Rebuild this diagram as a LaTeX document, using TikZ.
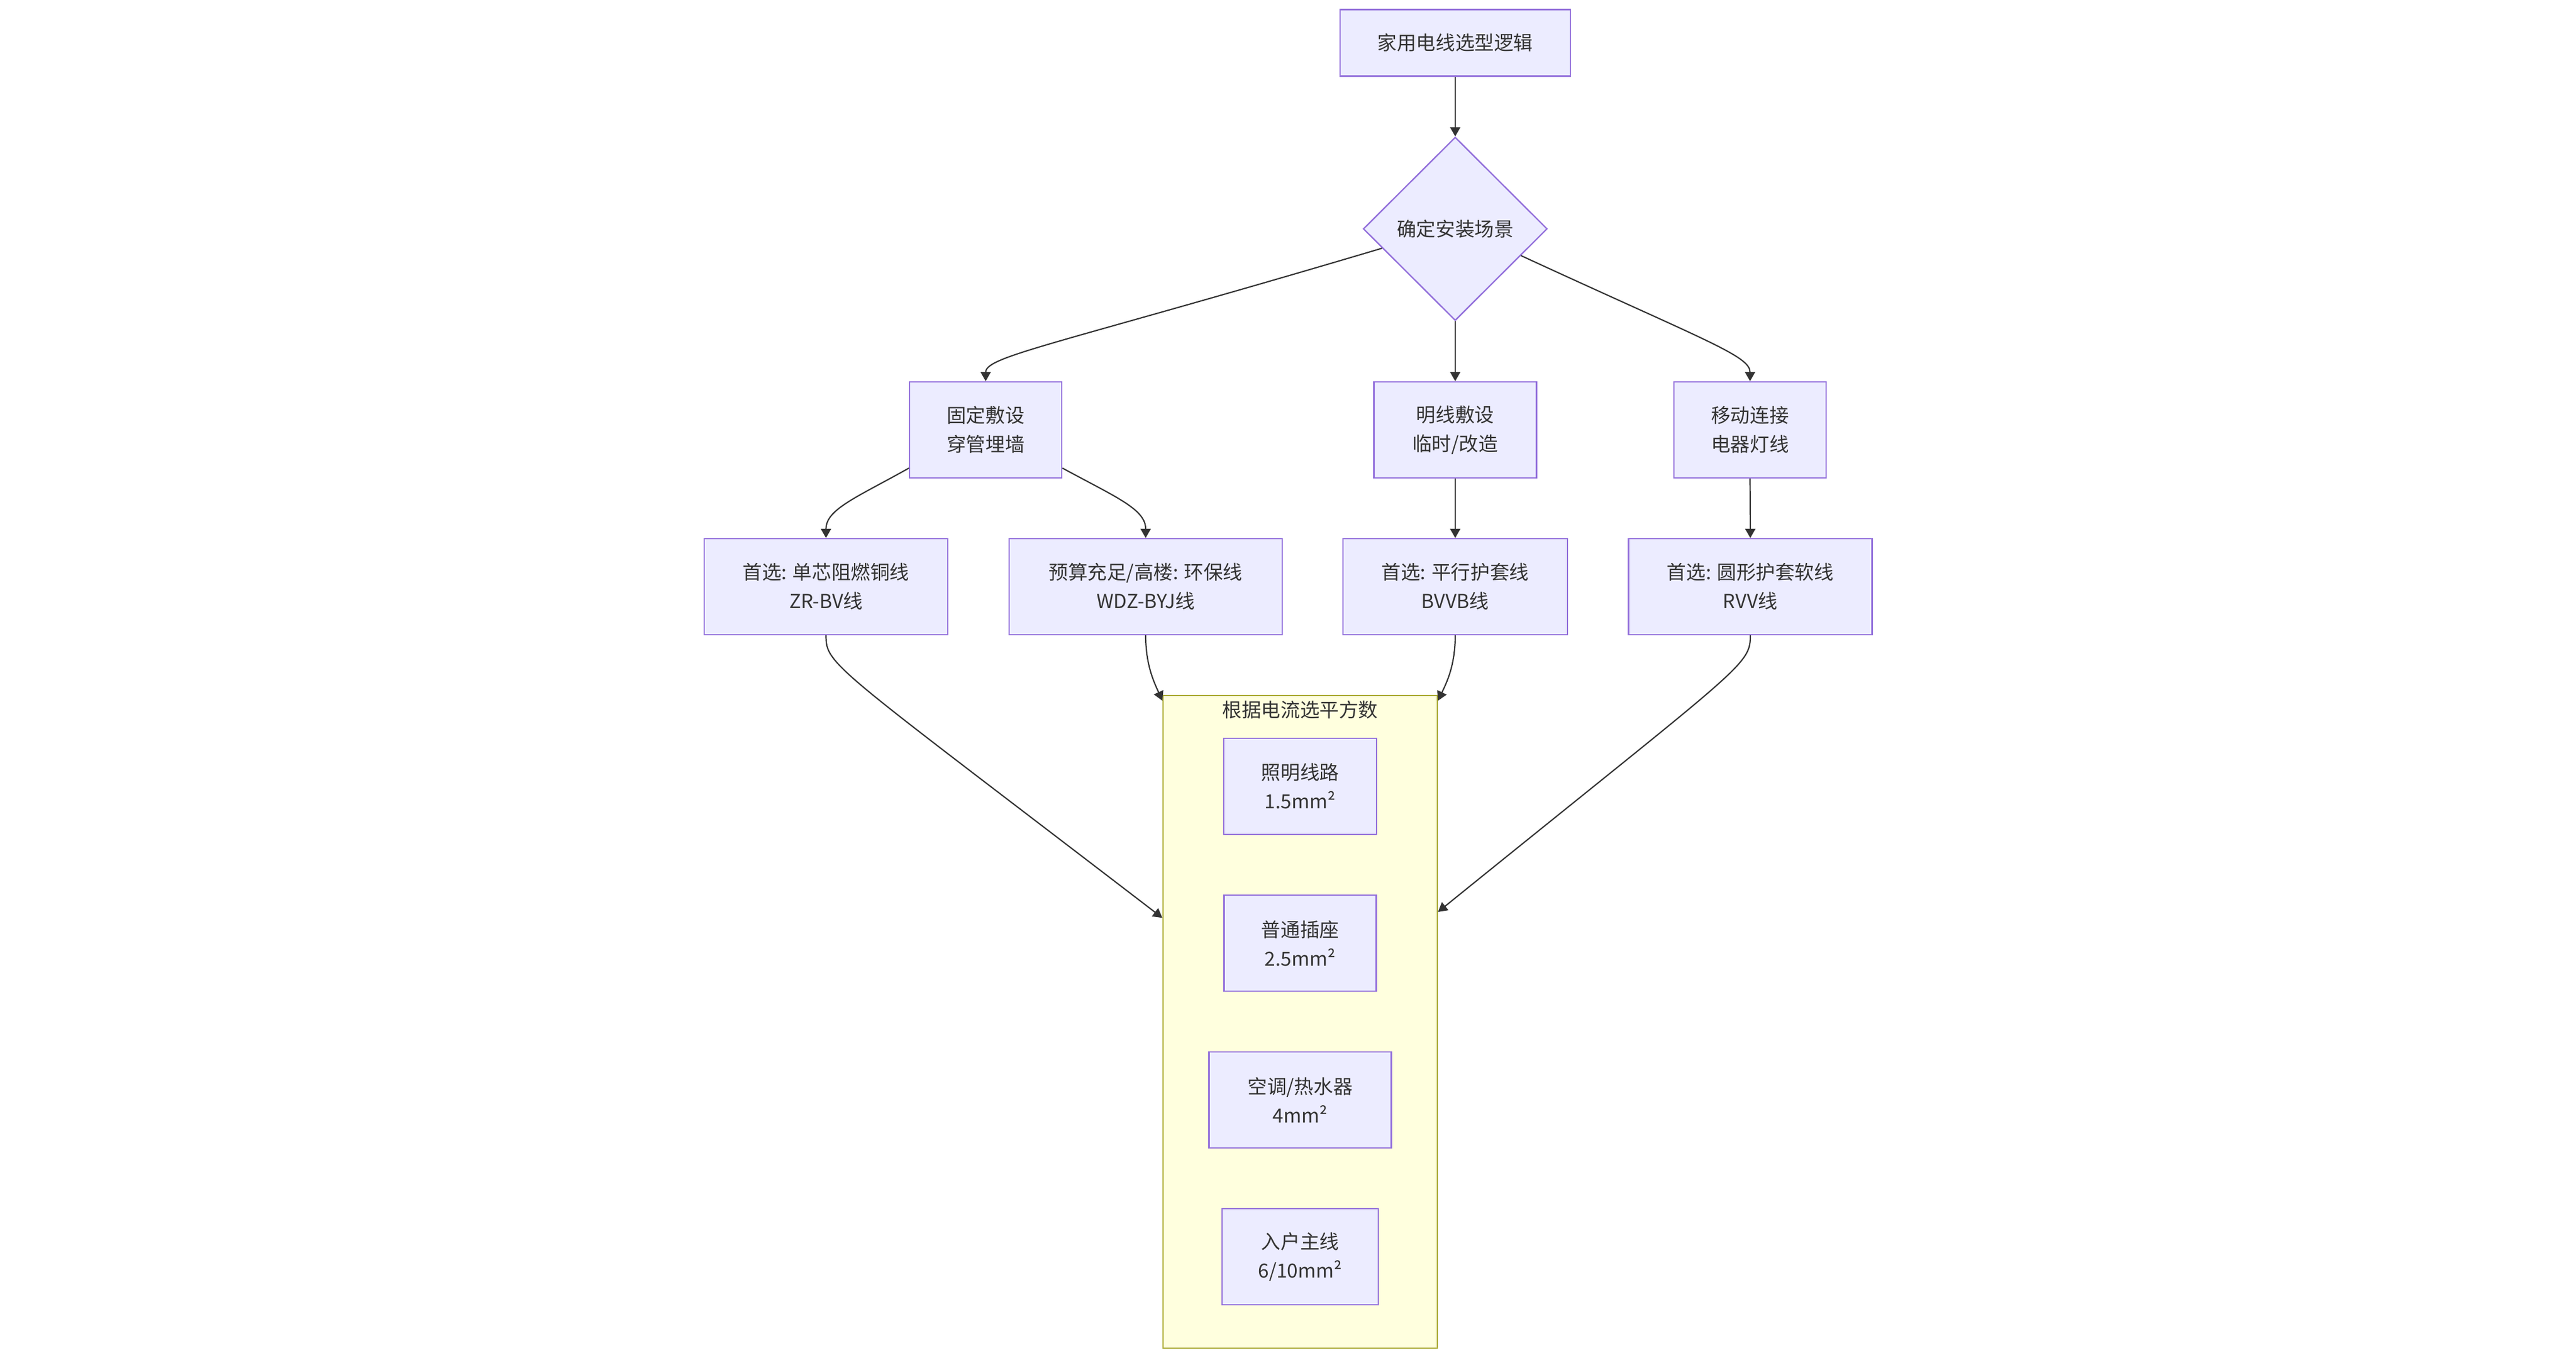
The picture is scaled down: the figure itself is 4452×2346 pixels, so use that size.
\documentclass[tikz,border=0pt]{standalone}
\usepackage{fontspec}
\setmainfont{Noto Sans CJK SC}
\usetikzlibrary{shapes.geometric,arrows.meta,calc}
\definecolor{nfill}{HTML}{ECECFF}
\definecolor{nborder}{HTML}{9370DB}
\definecolor{cfill}{HTML}{FFFFDE}
\definecolor{cborder}{HTML}{AAAA33}
\definecolor{ink}{HTML}{333333}
\begin{document}
\begin{tikzpicture}[x=0.25pt,y=-0.25pt,
  txt/.style={text=ink,font=\fontsize{8.4pt}{12.5pt}\selectfont,align=center,inner sep=0pt},
  box/.style={txt,draw=nborder,fill=nfill,line width=0.6pt,minimum height=41.5pt},
  decide/.style={txt,diamond,draw=nborder,fill=nfill,line width=0.6pt,minimum width=79.5pt,minimum height=79.25pt},
  clusterbox/.style={draw=cborder,fill=cfill,line width=0.6pt,minimum width=118.5pt,minimum height=282pt,inner sep=0pt},
  link/.style={draw=ink,line width=0.55pt,-{Triangle[length=4pt,width=4.4pt]}}
]
\fill[white] (0,0) rectangle (4452,2346);
\useasboundingbox (0,0) rectangle (4452,2346);

% nodes
\node[box,minimum width=99.5pt,minimum height=28.75pt] (top) at (2515,74) {家用电线选型逻辑};
\node[decide] (dia) at (2515,395.5) {确定安装场景};

\node[box,minimum width=65.75pt] (gd) at (1703.5,743) {固定敷设\\穿管埋墙};
\node[box,minimum width=70.25pt] (mx) at (2515,743) {明线敷设\\临时/改造};
\node[box,minimum width=65.75pt] (yd) at (3024.5,743) {移动连接\\电器灯线};

\node[box,minimum width=105.25pt] (a1) at (1427.5,1014) {首选: 单芯阻燃铜线\\ZR-BV线};
\node[box,minimum width=118pt] (a2) at (1980,1014) {预算充足/高楼: 环保线\\WDZ-BYJ线};
\node[box,minimum width=97pt] (a3) at (2515,1014) {首选: 平行护套线\\BVVB线};
\node[box,minimum width=105.25pt] (a4) at (3025,1014) {首选: 圆形护套软线\\RVV线};

\node[clusterbox] (cl) at (2247,1766) {};
\node[txt] (clt) at (2247,1227) {根据电流选平方数};
\node[box,minimum width=66pt] (s1) at (2247,1359) {照明线路\\1.5mm²};
\node[box,minimum width=65.75pt] (s2) at (2247,1630) {普通插座\\2.5mm²};
\node[box,minimum width=78.75pt] (s3) at (2247,1901) {空调/热水器\\4mm²};
\node[box,minimum width=67.5pt] (s4) at (2247,2172) {入户主线\\6/10mm²};

% connectors
\draw[link] (top.south) -- (dia.north);
\draw[link] ($(dia.west)!0.21!(dia.south)$) .. controls (1830,595) and (1703.5,615) .. (gd.north);
\draw[link] (dia.south) -- (mx.north);
\draw[link] ($(dia.east)!0.29!(dia.south)$) .. controls (2950,590) and (3024.5,615) .. (yd.north);

\draw[link] ($(gd.north west)!0.892!(gd.south west)$) .. controls (1480,860) and (1427.5,880) .. (a1.north);
\draw[link] ($(gd.north east)!0.892!(gd.south east)$) .. controls (1930,860) and (1980,880) .. (a2.north);
\draw[link] (mx.south) -- (a3.north);
\draw[link] (yd.south) -- (a4.north);

\draw[link] (a1.south) .. controls (1427.5,1150) and (1440,1150) .. ($(cl.north west)!0.341!(cl.south west)$);
\draw[link] (a2.south) .. controls (1980,1150) and (1995,1180) .. ($(cl.north west)!0.009!(cl.south west)$);
\draw[link] (a3.south) .. controls (2515,1150) and (2500,1180) .. ($(cl.north east)!0.009!(cl.south east)$);
\draw[link] (a4.south) .. controls (3025,1150) and (3012,1150) .. ($(cl.north east)!0.332!(cl.south east)$);
\end{tikzpicture}
\end{document}
